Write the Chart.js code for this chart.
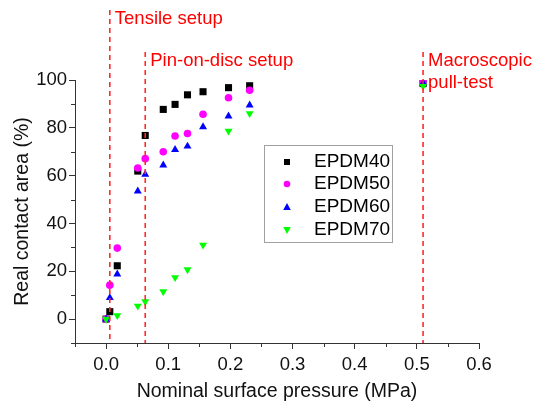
<!DOCTYPE html>
<html>
<head>
<meta charset="utf-8">
<script src="https://cdn.jsdelivr.net/npm/chart.js@4.4.0/dist/chart.umd.min.js"></script>
<style>
  html, body { margin: 0; padding: 0; background: #fff; }
</style>
</head>
<body>
<canvas id="myChart" width="539" height="405"></canvas>
<script>
// ---------------- data ---------------- //
const pressure = [0, 0.006, 0.018, 0.051, 0.063, 0.092, 0.111, 0.131, 0.156, 0.197, 0.231, 0.51];

const epdm40 = [0, 3.1, 22.3, 61.9, 76.8, 87.7, 89.8, 93.8, 95.1, 96.8, 97.6, 98.5];
const epdm50 = [0, 14.2, 29.7, 63.2, 67.1, 70.0, 76.6, 77.6, 85.7, 92.6, 95.7, 99.6];
const epdm60 = [0, 8.9, 18.8, 53.5, 60.5, 64.4, 70.9, 72.3, 80.4, 84.9, 89.5, 98.7];
const epdm70 = [0, null, 1.5, 5.5, 7.3, 11.5, 17.4, 20.7, 31.0, 78.7, 86.0, 97.4];

const seriesNames = ['EPDM40', 'EPDM50', 'EPDM60', 'EPDM70'];
const seriesColors = ['#000000', '#ff00ff', '#0000ff', '#00ff00'];

const xTicks = [0, 0.1, 0.2, 0.3, 0.4, 0.5, 0.6];
const yTicks = [0, 20, 40, 60, 80, 100];

// setup lines (x in MPa) + labels
const setupX = [0.006, 0.063, 0.51];
const setupText = [['Tensile setup'], ['Pin-on-disc setup'], ['Macroscopic', 'pull-test']];

// ---------------- helpers ---------------- //
function toPoints(ys) {
  let pts = [];
  ys.forEach((y, i) => { if (y !== null) pts.push({ x: pressure[i], y: y }); });
  return pts;
}

const styles = [
  { pointStyle: 'rect', radius: 5, rotation: 0 },
  { pointStyle: 'circle', radius: 3.8, rotation: 0 },
  { pointStyle: 'triangle', radius: 4.6, rotation: 0 },
  { pointStyle: 'triangle', radius: 4.6, rotation: 180 }
];

const allData = [epdm40, epdm50, epdm60, epdm70];

const datasets = allData.map((d, i) => ({
  label: seriesNames[i],
  data: toPoints(d),
  showLine: false,
  backgroundColor: seriesColors[i],
  borderColor: seriesColors[i],
  borderWidth: 0,
  pointStyle: styles[i].pointStyle,
  pointRadius: styles[i].radius,
  pointRotation: styles[i].rotation,
  order: 4 - i
}));

const FONT = 'Liberation Sans, Arial, sans-serif';

// 빨간 점선 + 텍스트, 범례, 보조 눈금
const extras = {
  id: 'extras',
  afterDatasetsDraw(chart) {
    const ctx = chart.ctx;
    const xs = chart.scales.x;
    const ys = chart.scales.y;
    const area = chart.chartArea;

    // minor ticks
    ctx.save();
    ctx.strokeStyle = '#333';
    ctx.lineWidth = 1;
    ctx.beginPath();
    for (let v = -0.05; v < 0.6; v += 0.1) {
      const px = Math.round(xs.getPixelForValue(v)) + 0.5;
      ctx.moveTo(px, area.bottom);
      ctx.lineTo(px, area.bottom + 4);
    }
    for (let v = -10; v < 100; v += 20) {
      const py = Math.round(ys.getPixelForValue(v)) + 0.5;
      ctx.moveTo(area.left, py);
      ctx.lineTo(area.left - 4, py);
    }
    ctx.stroke();
    ctx.restore();

    // setup lines
    const tops = [10, 52, 52];
    const baselines = [[24], [66], [66, 88]];
    ctx.save();
    ctx.strokeStyle = '#ff2a2a';
    ctx.lineWidth = 1.6;
    ctx.setLineDash([5, 4]);
    setupX.forEach((v, i) => {
      const px = xs.getPixelForValue(v);
      ctx.beginPath();
      ctx.moveTo(px, tops[i]);
      ctx.lineTo(px, area.bottom);
      ctx.stroke();
    });
    ctx.setLineDash([]);
    ctx.fillStyle = '#ff0000';
    ctx.font = '18.5px ' + FONT;
    ctx.textBaseline = 'alphabetic';
    ctx.textAlign = 'left';
    setupText.forEach((lines, i) => {
      const px = xs.getPixelForValue(setupX[i]);
      lines.forEach((t, j) => ctx.fillText(t, px + 5, baselines[i][j]));
    });
    ctx.restore();

    // legend
    ctx.save();
    ctx.fillStyle = '#fff';
    ctx.fillRect(264, 145, 128, 97);
    ctx.strokeStyle = '#a0a0a0';
    ctx.lineWidth = 1;
    ctx.strokeRect(264.5, 145.5, 128, 97);
    const rowsY = [162, 184, 207, 230];
    seriesNames.forEach((n, i) => {
      const mx = 287, my = rowsY[i];
      ctx.fillStyle = seriesColors[i];
      ctx.beginPath();
      if (i === 0) ctx.rect(mx - 3, my - 3, 6, 6);
      else if (i === 1) ctx.arc(mx, my, 3.3, 0, Math.PI * 2);
      else if (i === 2) { ctx.moveTo(mx, my - 4); ctx.lineTo(mx + 3.8, my + 3); ctx.lineTo(mx - 3.8, my + 3); }
      else { ctx.moveTo(mx, my + 4); ctx.lineTo(mx + 3.8, my - 3); ctx.lineTo(mx - 3.8, my - 3); }
      ctx.closePath();
      ctx.fill();
      ctx.fillStyle = '#000';
      ctx.font = '19px ' + FONT;
      ctx.textBaseline = 'middle';
      ctx.fillText(n, 314, my);
    });
    ctx.restore();
  }
};

new Chart(document.getElementById('myChart'), {
  type: 'scatter',
  data: { datasets: datasets },
  plugins: [extras],
  options: {
    responsive: false,
    animation: false,
    devicePixelRatio: 1,
    layout: { padding: { top: 80, right: 60, left: 0, bottom: 0 } },
    plugins: { legend: { display: false }, tooltip: { enabled: false } },
    scales: {
      x: {
        type: 'linear',
        min: -0.05,
        max: 0.6,
        afterBuildTicks: (s) => { s.ticks = xTicks.map(v => ({ value: v })); },
        afterFit: (s) => { s.height = 62; },
        border: { display: true, color: '#333', width: 1 },
        grid: { display: true, drawOnChartArea: false, tickLength: 6, color: '#333' },
        ticks: {
          color: '#111', padding: 5, maxRotation: 0,
          font: { family: FONT, size: 18.5 },
          callback: (v) => Number(v).toFixed(1)
        },
        title: {
          display: true, text: 'Nominal surface pressure (MPa)', color: '#111',
          font: { family: FONT, size: 19.5 }, padding: { top: 0, bottom: 2 }
        }
      },
      y: {
        type: 'linear',
        min: -10,
        max: 100,
        afterBuildTicks: (s) => { s.ticks = yTicks.map(v => ({ value: v })); },
        afterFit: (s) => { s.width = 75; },
        border: { display: true, color: '#333', width: 1 },
        grid: { display: true, drawOnChartArea: false, tickLength: 6, color: '#333' },
        ticks: {
          color: '#111', padding: 2,
          font: { family: FONT, size: 18.5 }
        },
        title: {
          display: true, text: 'Real contact area (%)', color: '#111',
          font: { family: FONT, size: 19.5 }, padding: { top: 11, bottom: 0 }
        }
      }
    }
  }
});
</script>
</body>
</html>
